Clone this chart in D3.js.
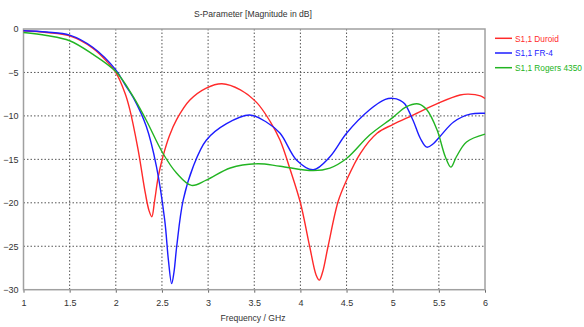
<!DOCTYPE html>
<html><head><meta charset="utf-8">
<script src="https://cdn.jsdelivr.net/npm/d3@7"></script>
<style>
body{margin:0;background:#fff;}
svg{display:block;font-family:"Liberation Sans",Arial,sans-serif;}
</style></head>
<body><svg id="c" width="584" height="327"></svg>
<script>
const seriesNames = ["S1,1 Duroid", "S1,1 FR-4", "S1,1 Rogers 4350"];
const seriesColors = ["#ff2a2a", "#1c1cff", "#22b422"];
const duroidFreq = [1.0,1.25,1.5,1.75,1.9,2.0,2.1,2.15,2.24,2.32,2.36,2.39,2.42,2.46,2.51,2.58,2.66,2.8,2.98,3.15,3.35,3.53,3.67,3.78,3.89,4.0,4.1,4.17,4.205,4.24,4.3,4.41,4.5,4.65,4.83,5.0,5.22,5.5,5.73,5.82,5.95,6.0];
const duroidDb   = [-0.2,-0.4,-0.8,-2.2,-3.7,-5.0,-7.4,-9.2,-13.8,-18.9,-20.9,-21.6,-19.8,-17.0,-14.7,-12.3,-10.4,-8.2,-6.8,-6.3,-7.0,-8.5,-10.6,-12.8,-16.2,-20.0,-25.0,-28.3,-28.9,-28.0,-25.0,-19.8,-17.4,-14.3,-12.0,-11.0,-9.9,-8.5,-7.6,-7.5,-7.7,-8.0];
const fr4Freq = [1.0,1.25,1.5,1.75,2.0,2.1,2.19,2.33,2.44,2.53,2.57,2.605,2.63,2.66,2.73,2.84,2.98,3.2,3.45,3.63,3.78,3.96,4.14,4.32,4.5,4.75,4.92,5.0,5.08,5.13,5.22,5.3,5.37,5.44,5.51,5.66,5.84,6.0];
const fr4Db   = [-0.2,-0.35,-0.7,-2.1,-4.7,-6.4,-7.9,-11.2,-15.8,-22.0,-26.6,-29.3,-28.0,-25.0,-19.7,-15.8,-12.8,-10.9,-9.9,-10.7,-12.0,-15.1,-16.2,-14.7,-12.0,-9.3,-8.1,-7.98,-8.2,-8.6,-10.5,-12.6,-13.6,-13.2,-12.4,-10.7,-9.8,-9.7];
const rogersFreq = [1.0,1.25,1.5,1.75,2.0,2.19,2.33,2.51,2.66,2.82,2.98,3.24,3.54,3.78,4.14,4.32,4.5,4.75,5.0,5.15,5.28,5.37,5.48,5.57,5.63,5.69,5.8,6.0];
const rogersDb   = [-0.4,-0.75,-1.35,-2.9,-4.9,-7.8,-10.5,-14.3,-16.6,-18.0,-17.4,-16.0,-15.5,-15.8,-16.3,-16.0,-14.9,-12.2,-10.2,-8.94,-8.63,-9.3,-11.6,-14.7,-15.9,-14.7,-13.0,-12.1];
const xTicks = [1,1.5,2,2.5,3,3.5,4,4.5,5,5.5,6];
const yTicks = [0,-5,-10,-15,-20,-25,-30];
const title = "S-Parameter [Magnitude in dB]";
const xLabel = "Frequency / GHz";

const series = [
  {name: seriesNames[0], color: seriesColors[0], f: duroidFreq, v: duroidDb},
  {name: seriesNames[1], color: seriesColors[1], f: fr4Freq, v: fr4Db},
  {name: seriesNames[2], color: seriesColors[2], f: rogersFreq, v: rogersDb}
];

const FS = "8.6px";
const L = 23.5, R = 485, T = 29, B = 289.7;
const svg = d3.select("#c");
const x = d3.scaleLinear().domain([1,6]).range([L,R]);
const y = d3.scaleLinear().domain([-30,0]).range([B,T]);

// gridlines
const grid = svg.append("g");
grid.selectAll("line.gx").data(xTicks.slice(1,-1)).join("line")
  .attr("x1", d=>x(d)).attr("x2", d=>x(d)).attr("y1", T).attr("y2", B)
  .attr("stroke", "#555").attr("stroke-width", 1).attr("stroke-dasharray", "1.5,2");
grid.selectAll("line.gy").data(yTicks.slice(1,-1)).join("line")
  .attr("y1", d=>y(d)).attr("y2", d=>y(d)).attr("x1", L).attr("x2", R)
  .attr("stroke", "#555").attr("stroke-width", 1).attr("stroke-dasharray", "1.5,2");

// axes
const xAxis = svg.append("g").attr("transform", `translate(0,${B})`)
  .call(d3.axisBottom(x).tickValues(xTicks).tickFormat(d3.format("")).tickSize(3).tickPadding(7));
const yAxis = svg.append("g").attr("transform", `translate(${L},0)`)
  .call(d3.axisLeft(y).tickValues(yTicks).tickFormat(d3.format("")).tickSize(0).tickPadding(5));
[xAxis, yAxis].forEach(a => {
  a.select(".domain").remove();
  a.selectAll("line").attr("stroke", "#666");
  a.selectAll("text").attr("fill", "#333").style("font-size", "9px").style("font-family", "Liberation Sans, Arial, sans-serif");
});

// frame
svg.append("rect").attr("x", L).attr("y", T).attr("width", R-L).attr("height", B-T)
  .attr("fill", "none").attr("stroke", "#a0a0a0").attr("stroke-width", 1.5);

// lines
const line = d3.line().curve(d3.curveCatmullRom.alpha(0.5));
svg.append("g").selectAll("path").data(series).join("path")
  .attr("d", s => line(s.f.map((f,i)=>[x(f), y(s.v[i])])))
  .attr("fill", "none").attr("stroke", s=>s.color).attr("stroke-width", 1.4);

// title & labels
svg.append("text").attr("x", 253).attr("y", 17).attr("text-anchor", "middle")
  .attr("fill", "#333").style("font-size", FS).text(title);
svg.append("text").attr("x", 253).attr("y", 321).attr("text-anchor", "middle")
  .attr("fill", "#333").style("font-size", FS).text(xLabel);

// legend
const lg = svg.append("g").selectAll("g").data(series).join("g")
  .attr("transform", (d,i)=>`translate(495,${38.3 + i*14.7})`);
lg.append("line").attr("x1", 0).attr("x2", 17).attr("stroke", d=>d.color).attr("stroke-width", 1.5);
lg.append("text").attr("x", 20).attr("y", 3.2).attr("fill", d=>d.color)
  .style("font-size", "8.3px").text(d=>d.name);
</script></body></html>
